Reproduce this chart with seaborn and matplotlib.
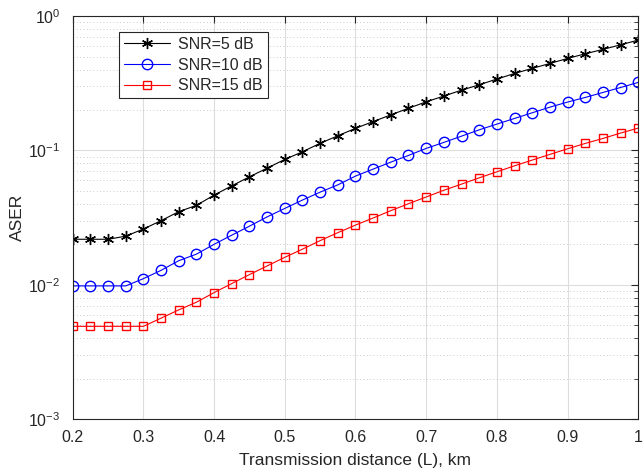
import numpy as np
import matplotlib
matplotlib.use("Agg")
import matplotlib.pyplot as plt
import seaborn as sns
import pandas as pd
from matplotlib.ticker import LogLocator

# distance (km) and ASER values
dist = [0.2, 0.225, 0.25, 0.275, 0.3, 0.325, 0.35, 0.375, 0.4, 0.425, 0.45,
        0.475, 0.5, 0.525, 0.55, 0.575, 0.6, 0.625, 0.65, 0.675, 0.7, 0.725,
        0.75, 0.775, 0.8, 0.825, 0.85, 0.875, 0.9, 0.925, 0.95, 0.975, 1.0]
snr5 = [0.0218, 0.0218, 0.0218, 0.023, 0.026, 0.030, 0.035, 0.039, 0.0465,
        0.0545, 0.0636, 0.0738, 0.0857, 0.0977, 0.113, 0.1285, 0.146, 0.164,
        0.184, 0.206, 0.230, 0.254, 0.281, 0.308, 0.340, 0.374, 0.408, 0.444,
        0.484, 0.524, 0.565, 0.611, 0.663]
snr10 = [0.0098, 0.0098, 0.0098, 0.0098, 0.0111, 0.0128, 0.0151, 0.0169,
         0.0200, 0.0234, 0.0273, 0.0320, 0.0370, 0.0427, 0.0489, 0.0554,
         0.0644, 0.0726, 0.0818, 0.0918, 0.1035, 0.1147, 0.1277, 0.1423,
         0.157, 0.173, 0.1906, 0.210, 0.229, 0.248, 0.270, 0.294, 0.321]
snr15 = [0.0049, 0.0049, 0.0049, 0.0049, 0.0049, 0.00564, 0.0065, 0.00741,
         0.00874, 0.0102, 0.0119, 0.0138, 0.0160, 0.0184, 0.0213, 0.0244,
         0.0278, 0.0314, 0.0356, 0.0401, 0.0450, 0.0505, 0.0561, 0.0625,
         0.0693, 0.0768, 0.0847, 0.0934, 0.1028, 0.1127, 0.1227, 0.1346, 0.1466]
labels = ["SNR=5 dB", "SNR=10 dB", "SNR=15 dB"]
xticks = [0.2, 0.3, 0.4, 0.5, 0.6, 0.7, 0.8, 0.9, 1.0]
xticklabels = ["0.2", "0.3", "0.4", "0.5", "0.6", "0.7", "0.8", "0.9", "1"]

sns.set_style("white")
plt.rcParams['font.family'] = ['Liberation Sans', 'DejaVu Sans']
plt.rcParams['mathtext.fontset'] = 'custom'
plt.rcParams['mathtext.rm'] = 'Liberation Sans'
plt.rcParams['mathtext.it'] = 'Liberation Sans'
plt.rcParams['mathtext.default'] = 'regular'

fig = plt.figure(figsize=(6.44, 4.74), dpi=100)
ax = fig.add_axes([0.113, 0.116, 0.878, 0.850])

# asterisk like MATLAB '*'
styles = [("black", (6, 2, 0), 8), ("#0000ff", "o", 7.5), ("#ff0000", "s", 6)]
for vals, lab, (c, m, ms) in zip([snr5, snr10, snr15], labels, styles):
    df = pd.DataFrame({"L": dist, "ASER": vals})
    sns.lineplot(data=df, x="L", y="ASER", ax=ax, color=c, marker=m,
                 markersize=ms, markerfacecolor="none",
                 markeredgecolor=c, markeredgewidth=1.0, linewidth=0.8,
                 label=lab)

ax.set_yscale("log")
ax.set_xlim(0.2, 1.0)
ax.set_ylim(1e-3, 1)
ax.set_xticks(xticks)
ax.set_xticklabels(xticklabels)
ax.yaxis.set_major_locator(LogLocator(base=10, numticks=10))
ax.yaxis.set_minor_locator(LogLocator(base=10, subs=np.arange(2, 10), numticks=20))

ax.grid(True, which="major", color="#dddddd", linewidth=0.8, linestyle="-")
ax.grid(True, which="minor", color="#bbbbbb", linewidth=0.6, linestyle=(0, (1, 3)))
ax.set_axisbelow(True)
ax.tick_params(which="both", direction="in", top=True, right=True,
               labelsize=11.5, colors="#262626")
ax.tick_params(axis="x", which="major", length=5, pad=8)
ax.tick_params(axis="y", which="major", length=5, pad=9)
ax.tick_params(which="minor", length=3)
for s in ax.spines.values():
    s.set_color("#262626")
    s.set_linewidth(0.8)

ax.set_xlabel("Transmission distance (L), km", fontsize=12.5, labelpad=6)
ax.set_ylabel("ASER", fontsize=12.5, labelpad=2)

leg = ax.legend(loc="upper left", bbox_to_anchor=(0.068, 0.98), fontsize=11.5,
                fancybox=False, framealpha=1, edgecolor="#262626",
                handlelength=2.9, borderpad=0.3, labelspacing=0.35,
                handletextpad=0.5)
leg.get_frame().set_linewidth(0.8)

fig.savefig("out.png", dpi=100)
